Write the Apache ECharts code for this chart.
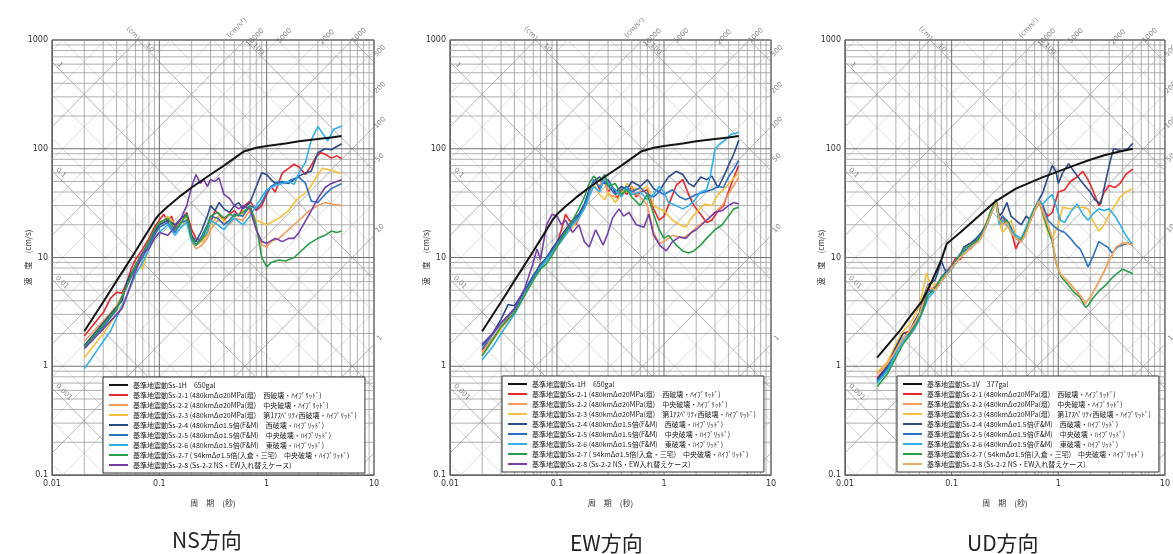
<!DOCTYPE html>
<html><head><meta charset="utf-8">
<script src="https://cdn.jsdelivr.net/npm/echarts/dist/echarts.min.js"></script>
<style>html,body{margin:0;padding:0;background:#fff}#c{width:1173px;height:554px}</style>
</head><body><div id="c"></div>
<script>
// ---------- axis ranges / grid values ----------
const PERIOD_MIN = 0.01, PERIOD_MAX = 10, VEL_MIN = 0.1, VEL_MAX = 1000;
const X_TICKS = [0.01, 0.1, 1, 10];
const Y_TICKS = [0.1, 1, 10, 100, 1000];
const MANTISSA = [2, 3, 4, 5, 6, 7, 8, 9];
const DISP_LINES = [0.0002,0.0005,0.001,0.002,0.005,0.01,0.02,0.05,0.1,0.2,0.5,1,2,5,10,20,50,100,200,500,1000];
const ACC_LINES = [0.1,0.2,0.5,1,2,5,10,20,50,100,200,500,1000,2000,5000,10000,20000,50000,100000,200000,500000];
// tripartite scale labels: [period, velocity, text, direction]
const SCALE_LABELS = [
  [0.0119, 590, '1', -45], [0.0121, 60, '0.1', -45], [0.0124, 5.9, '0.01', -45], [0.0129, 0.58, '0.001', -45],
  [0.057, 1150, '(cm)', -45], [0.0813, 845, '10', -45], [0.836, 826, '100', -45],
  [0.53, 1290, '(cm/s²)', 45], [0.78, 1050, '10000', 45], [1.46, 1089, '5000', 45], [3.65, 1064, '2000', 45], [7.24, 1100, '1000', 45],
  [11.35, 793, '500', 45], [11.35, 363, '200', 45], [11.35, 173, '100', 45], [11.35, 82.6, '50', 45], [11.35, 18.5, '10', 45], [11.35, 1.81, '1', 45]
];

// ---------- legend names ----------
const NAME_SS1H = '基準地震動Ss-1H　650gal';
const NAME_SS1V = '基準地震動Ss-1V　377gal';
const NAMES_SS2 = [
  '基準地震動Ss-2-1 (480kmΔσ20MPa(壇)　西破壊・ﾊｲﾌﾞﾘｯﾄﾞ)',
  '基準地震動Ss-2-2 (480kmΔσ20MPa(壇)　中央破壊・ﾊｲﾌﾞﾘｯﾄﾞ)',
  '基準地震動Ss-2-3 (480kmΔσ20MPa(壇)　第1ｱｽﾍﾟﾘﾃｨ西破壊・ﾊｲﾌﾞﾘｯﾄﾞ)',
  '基準地震動Ss-2-4 (480kmΔσ1.5倍(F&M)　西破壊・ﾊｲﾌﾞﾘｯﾄﾞ)',
  '基準地震動Ss-2-5 (480kmΔσ1.5倍(F&M)　中央破壊・ﾊｲﾌﾞﾘｯﾄﾞ)',
  '基準地震動Ss-2-6 (480kmΔσ1.5倍(F&M)　東破壊・ﾊｲﾌﾞﾘｯﾄﾞ)',
  '基準地震動Ss-2-7 ( 54kmΔσ1.5倍(入倉・三宅)　中央破壊・ﾊｲﾌﾞﾘｯﾄﾞ)',
  '基準地震動Ss-2-8 (Ss-2-2 NS・EW入れ替えケース)'
];
const PANEL_TITLES = ['NS方向', 'EW方向', 'UD方向'];
const X_NAME = '周　期　(秒)';
const Y_NAME = '速　度　(cm/s)';

// ---------- data: [period (s), velocity (cm/s)] ----------
const SS1H = [[0.02,2.1],[0.03,3.9],[0.04,6.1],[0.05,8.6],[0.06,11.4],[0.07,14.6],[0.08,18],[0.09,21.8],[0.1,25],[0.12,29.5],[0.15,35.5],[0.2,44],[0.3,58],[0.4,70],[0.5,82],[0.62,95],[0.8,102],[1.0,106],[1.5,112],[2.0,117],[3.0,123],[4.0,127],[5.0,131]];
const SS1V = [[0.02,1.2],[0.0324,2.1],[0.04,2.8],[0.053,4.0],[0.0655,6.1],[0.08,9.5],[0.09,13.4],[0.125,17.5],[0.167,22.6],[0.26,33],[0.4,43],[0.69,54],[1.0,62],[1.4,70],[1.9,78],[2.7,87],[3.7,94],[5.0,100]];

const NS_21 = [[0.02,1.9],[0.025,2.5],[0.03,3.1],[0.035,4.2],[0.04,4.8],[0.045,4.7],[0.05,6.0],[0.055,8.0],[0.06,9.5],[0.07,12],[0.08,15],[0.09,19],[0.1,22],[0.11,25],[0.12,21],[0.13,24],[0.14,19],[0.16,22],[0.18,26],[0.2,18],[0.22,15],[0.25,14],[0.28,17],[0.3,21],[0.33,27],[0.36,25],[0.4,22],[0.45,25],[0.5,27],[0.55,24],[0.6,29],[0.7,33],[0.8,27],[0.9,30],[1.0,38],[1.1,45],[1.2,40],[1.4,60],[1.6,66],[1.8,72],[2.0,68],[2.3,58],[2.6,70],[2.9,85],[3.2,92],[3.6,88],[4.0,82],[4.5,86],[5.0,81]];
const NS_22 = [[0.02,1.7],[0.03,2.6],[0.04,3.6],[0.05,5.5],[0.06,8],[0.07,10.5],[0.08,13],[0.09,17],[0.1,21],[0.12,23],[0.14,18],[0.16,22],[0.18,24],[0.2,14],[0.22,12],[0.25,13],[0.28,15],[0.3,18],[0.35,22],[0.4,21],[0.45,20],[0.5,23],[0.6,22],[0.7,27],[0.8,18],[0.9,13],[1.0,12.5],[1.1,14],[1.3,15],[1.5,17],[1.8,20],[2.0,22],[2.5,27],[3.0,30],[3.5,32],[4.0,31],[5.0,30]];
const NS_23 = [[0.02,1.2],[0.03,2.0],[0.04,3.0],[0.05,4.5],[0.06,7],[0.065,9],[0.07,7.8],[0.075,10],[0.08,12],[0.09,16],[0.1,20],[0.12,24],[0.14,20],[0.16,19],[0.18,23],[0.2,16],[0.22,13],[0.25,14],[0.28,16],[0.3,20],[0.35,24],[0.4,22],[0.45,21],[0.5,24],[0.6,25],[0.7,28],[0.8,22],[0.9,21],[1.0,20],[1.1,21],[1.3,23],[1.6,27],[1.9,34],[2.2,38],[2.5,43],[2.9,55],[3.3,66],[3.8,64],[4.3,62],[5.0,59]];
const NS_24 = [[0.02,1.55],[0.03,2.5],[0.04,3.5],[0.045,4.0],[0.05,6],[0.06,8.5],[0.07,11],[0.08,14],[0.09,17],[0.1,20],[0.12,22],[0.14,20],[0.16,23],[0.18,25],[0.2,16],[0.22,14],[0.25,18],[0.28,24],[0.3,30],[0.33,27],[0.36,32],[0.4,28],[0.45,26],[0.5,30],[0.55,32],[0.6,28],[0.7,32],[0.8,45],[0.9,60],[1.0,58],[1.1,52],[1.2,48],[1.4,50],[1.6,48],[1.8,52],[2.0,56],[2.3,60],[2.6,62],[3.0,92],[3.5,100],[4.0,98],[4.5,105],[5.0,111]];
const NS_25 = [[0.02,1.5],[0.03,2.3],[0.04,3.3],[0.05,5.5],[0.06,8],[0.07,10],[0.08,13],[0.09,16],[0.1,19],[0.12,21],[0.14,17],[0.16,21],[0.18,22],[0.2,15],[0.22,13],[0.25,16],[0.28,20],[0.3,24],[0.35,23],[0.4,20],[0.45,22],[0.5,25],[0.6,24],[0.7,30],[0.8,28],[0.9,32],[1.0,40],[1.1,45],[1.3,50],[1.5,48],[1.7,52],[2.0,55],[2.3,48],[2.6,33],[3.0,32],[3.5,38],[4.0,43],[5.0,48]];
const NS_26 = [[0.02,0.95],[0.025,1.3],[0.03,1.7],[0.035,2.1],[0.04,2.8],[0.05,4.5],[0.06,7],[0.07,9],[0.08,12],[0.09,15],[0.1,17],[0.12,20],[0.14,16],[0.16,19],[0.18,21],[0.2,14],[0.22,13],[0.25,15],[0.28,17],[0.3,22],[0.35,20],[0.4,18],[0.45,21],[0.5,23],[0.6,20],[0.7,24],[0.8,30],[0.9,36],[1.0,42],[1.2,46],[1.4,48],[1.6,50],[1.8,47],[2.0,60],[2.3,75],[2.6,120],[3.0,160],[3.3,140],[3.7,118],[4.2,150],[5.0,162]];
const NS_27 = [[0.02,1.5],[0.03,2.4],[0.04,3.4],[0.05,5.5],[0.06,8.5],[0.07,11],[0.08,14],[0.09,18],[0.1,21],[0.12,23],[0.14,18],[0.16,21],[0.18,25],[0.2,15],[0.22,13],[0.25,15],[0.28,19],[0.3,24],[0.35,26],[0.4,23],[0.45,25],[0.5,24],[0.6,26],[0.7,30],[0.8,20],[0.9,10],[1.0,8.2],[1.1,9.0],[1.3,9.5],[1.5,9.3],[1.8,10],[2.0,11],[2.5,13.5],[3.0,15],[3.5,16],[4.0,17.5],[4.5,17],[5.0,17.5]];
const NS_28 = [[0.02,1.45],[0.03,2.2],[0.04,3.0],[0.045,3.4],[0.05,4.5],[0.06,7.5],[0.07,11],[0.08,12],[0.09,15],[0.1,17],[0.12,16],[0.14,19],[0.16,23],[0.18,30],[0.2,45],[0.22,58],[0.24,48],[0.26,52],[0.28,45],[0.3,52],[0.33,50],[0.36,54],[0.4,38],[0.45,35],[0.5,30],[0.55,28],[0.6,30],[0.7,28],[0.8,18],[0.9,14],[1.0,13.5],[1.2,15],[1.4,14],[1.6,15],[1.8,15],[2.0,17],[2.5,25],[3.0,35],[3.5,44],[4.0,48],[5.0,52]];

const EW_21 = [[0.02,1.4],[0.025,1.8],[0.03,2.3],[0.035,2.8],[0.04,3.3],[0.05,4.6],[0.06,6.5],[0.07,8.8],[0.08,9.5],[0.09,12],[0.1,13.5],[0.11,18],[0.12,25],[0.13,22],[0.15,20],[0.17,26],[0.19,32],[0.21,45],[0.23,52],[0.25,42],[0.27,55],[0.3,40],[0.33,45],[0.37,35],[0.4,42],[0.45,38],[0.5,45],[0.55,36],[0.6,40],[0.7,42],[0.8,28],[0.9,22],[1.0,24],[1.1,30],[1.3,46],[1.5,52],[1.7,38],[1.9,30],[2.2,25],[2.5,21],[2.8,22],[3.2,27],[3.6,30],[4.0,40],[4.5,55],[5.0,70]];
const EW_22 = [[0.02,1.35],[0.03,2.3],[0.04,3.2],[0.05,4.8],[0.06,6.8],[0.07,8.5],[0.08,10],[0.09,11.5],[0.1,13],[0.12,17],[0.14,20],[0.16,24],[0.18,30],[0.2,40],[0.22,50],[0.25,46],[0.28,52],[0.3,38],[0.35,36],[0.4,44],[0.45,40],[0.5,42],[0.6,36],[0.7,30],[0.8,17],[0.9,13.5],[1.0,14],[1.2,16],[1.5,15],[1.8,17],[2.0,19],[2.5,22],[3.0,26],[3.5,30],[4.0,38],[4.5,46],[5.0,55]];
const EW_23 = [[0.02,1.25],[0.03,2.2],[0.04,3.1],[0.05,4.6],[0.06,6.5],[0.07,8.2],[0.08,9.5],[0.09,11],[0.1,13],[0.12,16],[0.14,19],[0.16,23],[0.18,28],[0.2,38],[0.22,48],[0.25,38],[0.28,34],[0.3,40],[0.35,32],[0.4,38],[0.45,48],[0.5,44],[0.6,42],[0.7,45],[0.8,30],[0.9,28],[1.0,27],[1.2,22],[1.4,20],[1.6,19],[1.8,23],[2.0,26],[2.4,31],[2.8,30],[3.2,38],[3.6,42],[4.2,50],[5.0,60]];
const EW_24 = [[0.02,1.55],[0.025,2.0],[0.03,2.7],[0.035,3.7],[0.04,3.6],[0.05,5.0],[0.06,6.8],[0.07,8.6],[0.08,10],[0.09,12],[0.1,14],[0.12,18],[0.14,22],[0.16,25],[0.18,31],[0.2,42],[0.22,50],[0.25,55],[0.28,48],[0.3,52],[0.35,40],[0.4,45],[0.45,42],[0.5,50],[0.6,45],[0.7,52],[0.8,43],[0.9,40],[1.0,48],[1.1,55],[1.3,62],[1.5,58],[1.7,48],[1.9,45],[2.2,55],[2.5,52],[2.8,56],[3.2,44],[3.6,55],[4.0,70],[4.5,90],[5.0,120]];
const EW_25 = [[0.02,1.45],[0.03,2.5],[0.04,3.3],[0.05,4.9],[0.06,6.6],[0.07,8.4],[0.08,9.8],[0.09,11.5],[0.1,13.5],[0.12,17],[0.14,21],[0.16,24],[0.18,30],[0.2,40],[0.22,52],[0.25,44],[0.28,50],[0.3,46],[0.35,38],[0.4,42],[0.45,45],[0.5,40],[0.6,44],[0.7,38],[0.8,36],[0.9,40],[1.0,38],[1.2,42],[1.4,36],[1.6,34],[1.8,36],[2.0,38],[2.4,40],[2.8,42],[3.2,45],[3.6,44],[4.0,55],[4.5,65],[5.0,78]];
const EW_26 = [[0.02,1.15],[0.025,1.5],[0.03,2.0],[0.04,3.0],[0.05,4.5],[0.06,6.2],[0.07,8.0],[0.08,9.5],[0.09,11],[0.1,12.5],[0.12,16],[0.14,20],[0.16,23],[0.18,28],[0.2,36],[0.22,45],[0.25,40],[0.28,56],[0.3,48],[0.35,42],[0.4,36],[0.45,44],[0.5,38],[0.6,40],[0.7,34],[0.8,38],[0.9,45],[1.0,40],[1.1,32],[1.3,30],[1.5,28],[1.7,30],[1.9,33],[2.2,40],[2.5,42],[2.7,55],[3.0,100],[3.3,110],[3.7,120],[4.2,135],[5.0,142]];
const EW_27 = [[0.02,1.25],[0.03,2.3],[0.04,3.1],[0.05,4.5],[0.06,6.2],[0.07,7.8],[0.08,8.8],[0.09,10.5],[0.1,12.5],[0.12,17],[0.14,22],[0.16,28],[0.18,36],[0.2,48],[0.22,56],[0.25,50],[0.28,58],[0.3,45],[0.35,48],[0.4,38],[0.45,42],[0.5,36],[0.6,30],[0.7,38],[0.8,25],[0.9,18],[1.0,15],[1.1,16],[1.3,13],[1.5,11.5],[1.7,11],[1.9,11.5],[2.2,13],[2.5,15],[3.0,18],[3.5,20],[4.0,24],[4.5,28],[5.0,29]];
const EW_28 = [[0.02,1.6],[0.025,2.0],[0.03,2.5],[0.04,3.4],[0.05,5.2],[0.06,9],[0.065,12],[0.07,9.5],[0.08,20],[0.09,25],[0.1,24],[0.11,20],[0.12,22],[0.14,17],[0.16,20],[0.18,14],[0.2,12.5],[0.23,18],[0.27,13],[0.3,17],[0.33,23],[0.38,28],[0.42,24],[0.47,26],[0.55,20],[0.65,19],[0.72,25],[0.8,16],[0.93,12.7],[1.05,11.5],[1.2,14],[1.4,15.5],[1.6,15],[1.8,17],[2.0,18],[2.5,22],[3.0,26],[3.5,27],[4.0,30],[4.5,32],[5.0,31]];

const UD_21 = [[0.02,0.78],[0.025,1.0],[0.03,1.5],[0.035,2.0],[0.04,2.1],[0.045,2.6],[0.05,3.0],[0.055,4.0],[0.06,5.2],[0.065,4.8],[0.07,5.5],[0.08,6.3],[0.09,7.5],[0.1,8.5],[0.11,10],[0.12,9.5],[0.13,11.5],[0.15,12],[0.17,14],[0.19,16],[0.21,20],[0.23,25],[0.26,33],[0.28,22],[0.3,24],[0.33,20],[0.36,18],[0.4,12],[0.43,14],[0.47,15],[0.52,20],[0.58,25],[0.66,32],[0.72,28],[0.8,24],[0.88,26],[1.0,40],[1.15,42],[1.3,50],[1.5,55],[1.7,62],[1.9,52],[2.1,42],[2.4,30],[2.7,40],[3.0,46],[3.4,44],[3.8,48],[4.3,58],[5.0,65]];
const UD_22 = [[0.02,0.85],[0.025,1.05],[0.03,1.4],[0.035,1.8],[0.04,2.1],[0.045,2.5],[0.05,3.0],[0.055,4.2],[0.06,5.5],[0.07,5.0],[0.08,6.0],[0.09,7.0],[0.1,8.0],[0.11,9.0],[0.12,10],[0.14,11.5],[0.16,13],[0.18,14],[0.2,17],[0.23,24],[0.26,32],[0.28,22],[0.3,20],[0.33,21],[0.36,17],[0.4,15],[0.45,14],[0.5,17],[0.55,22],[0.6,27],[0.66,33],[0.72,26],[0.8,20],[0.88,15],[0.95,9],[1.05,7.0],[1.2,6.2],[1.4,5.2],[1.6,4.5],[1.8,3.8],[2.0,4.3],[2.3,5.5],[2.7,7.5],[3.1,10],[3.5,12.5],[4.0,13.5],[4.5,13.5],[5.0,13]];
const UD_23 = [[0.02,0.88],[0.025,1.1],[0.03,1.6],[0.035,2.1],[0.04,2.4],[0.045,2.9],[0.05,3.6],[0.055,5.5],[0.058,7.2],[0.062,6.0],[0.07,5.5],[0.08,6.2],[0.09,7.2],[0.1,8.2],[0.11,9.5],[0.12,10.5],[0.14,12],[0.16,14],[0.18,15],[0.2,18],[0.23,26],[0.26,34],[0.28,22],[0.3,17],[0.33,19],[0.36,22],[0.4,16],[0.45,15],[0.5,17],[0.55,22],[0.6,28],[0.66,33],[0.72,24],[0.8,17],[0.88,15],[1.0,20],[1.1,29],[1.3,28],[1.5,29],[1.7,29],[1.9,28],[2.1,22],[2.4,17.5],[2.7,20],[3.0,25],[3.4,30],[3.8,36],[4.3,40],[5.0,43]];
const UD_24 = [[0.02,0.75],[0.025,1.0],[0.03,1.5],[0.035,2.0],[0.04,2.0],[0.045,2.6],[0.05,3.1],[0.055,4.4],[0.06,5.6],[0.07,6.2],[0.075,7.5],[0.08,9.4],[0.085,8.0],[0.09,7.2],[0.1,8.0],[0.11,9.2],[0.12,10.5],[0.13,12.5],[0.15,13.5],[0.17,15],[0.19,17],[0.21,20],[0.23,25],[0.26,34],[0.28,24],[0.3,26],[0.33,32],[0.36,24],[0.4,22],[0.45,20],[0.5,24],[0.55,22],[0.6,28],[0.66,34],[0.72,40],[0.8,55],[0.88,70],[0.95,62],[1.0,48],[1.1,60],[1.25,73],[1.4,62],[1.6,52],[1.8,45],[2.0,40],[2.2,34],[2.5,31],[2.8,52],[3.1,80],[3.3,100],[3.6,98],[4.0,96],[4.5,100],[5.0,112]];
const UD_25 = [[0.02,0.72],[0.025,0.95],[0.03,1.35],[0.035,1.8],[0.04,2.0],[0.045,2.4],[0.05,2.9],[0.055,3.6],[0.06,4.8],[0.07,5.2],[0.08,6.6],[0.09,7.5],[0.1,8.2],[0.11,9.5],[0.12,10.8],[0.13,11.5],[0.15,12.5],[0.17,14.5],[0.19,16.5],[0.21,19],[0.23,24],[0.26,33],[0.28,21],[0.3,24],[0.33,22],[0.36,19],[0.4,15],[0.45,14],[0.5,18],[0.55,23],[0.6,28],[0.66,34],[0.72,30],[0.8,22],[0.88,20],[1.0,18],[1.15,17],[1.3,15],[1.46,13],[1.6,12],[1.75,10],[1.9,8.2],[2.1,10],[2.4,14],[2.7,13],[2.9,12.5],[3.2,11],[3.6,12.5],[4.0,13],[4.5,13.5],[5.0,13]];
const UD_26 = [[0.02,0.7],[0.025,0.9],[0.03,1.3],[0.035,1.7],[0.04,1.9],[0.045,2.2],[0.05,2.7],[0.055,3.4],[0.06,4.2],[0.07,5.0],[0.08,6.0],[0.09,7.0],[0.1,7.8],[0.11,9.0],[0.12,10],[0.13,11],[0.15,12.5],[0.17,14],[0.19,16],[0.21,19],[0.23,24],[0.26,32],[0.28,20],[0.3,22],[0.33,20],[0.36,18],[0.4,16],[0.45,15],[0.5,19],[0.55,24],[0.6,29],[0.66,33],[0.72,31],[0.8,35],[0.88,38],[0.95,30],[1.05,22],[1.15,21],[1.3,26],[1.5,31],[1.7,25],[1.9,22],[2.1,25],[2.4,28],[2.7,27],[3.0,28],[3.4,24],[3.8,20],[4.3,16],[5.0,13]];
const UD_27 = [[0.02,0.65],[0.025,0.85],[0.03,1.2],[0.035,1.6],[0.04,1.9],[0.045,2.3],[0.05,2.8],[0.055,3.5],[0.06,4.5],[0.07,5.2],[0.08,6.5],[0.09,7.2],[0.1,8.0],[0.11,9.2],[0.12,10.5],[0.13,12],[0.15,13],[0.17,14],[0.19,16],[0.21,20],[0.23,26],[0.26,34],[0.28,23],[0.3,20],[0.33,22],[0.36,17],[0.4,15],[0.45,14.5],[0.5,18],[0.55,23],[0.6,28],[0.66,33],[0.72,25],[0.8,18],[0.88,14],[0.95,9],[1.06,6.7],[1.2,5.8],[1.4,4.8],[1.6,4.3],[1.8,3.5],[1.9,3.6],[2.1,4.2],[2.4,4.9],[2.8,5.6],[3.2,6.5],[3.6,7.2],[4.0,7.8],[4.4,7.5],[5.0,7.1]];
const UD_28 = UD_22; // drawn on top of Ss-2-2 in the UD panel

// ---------- layout ----------
const PANELS = [
  {grid:{left:52, top:40, width:322, height:435}, legend:{left:103, top:377}, title:{left:167, top:525},
   names:[NAME_SS1H].concat(NAMES_SS2), data:[SS1H,NS_21,NS_22,NS_23,NS_24,NS_25,NS_26,NS_27,NS_28], last:'#7440a8'},
  {grid:{left:450, top:40, width:321, height:435}, legend:{left:502, top:376}, title:{left:565, top:528},
   names:[NAME_SS1H].concat(NAMES_SS2), data:[SS1H,EW_21,EW_22,EW_23,EW_24,EW_25,EW_26,EW_27,EW_28], last:'#7440a8'},
  {grid:{left:845, top:40, width:322, height:435}, legend:{left:897, top:376}, title:{left:962, top:528},
   names:[NAME_SS1V].concat(NAMES_SS2.slice(0,7), [NAMES_SS2[7] + '\u200b']), data:[SS1V,UD_21,UD_22,UD_23,UD_24,UD_25,UD_26,UD_27,UD_28], last:'#eda865'}
];
const COLORS = ['#141414','#e8262b','#f39a5e','#f6c03c','#2c4a8a','#2a73c2','#2fb0ea','#2a9d48'];
const FONT = '"Noto Sans CJK JP","Noto Sans",sans-serif';

const L = Math.log10;
function diag(kind, c){
  const lt0=L(PERIOD_MIN), lt1=L(PERIOD_MAX), lv0=L(VEL_MIN), lv1=L(VEL_MAX);
  let a,b,f;
  if(kind==='D'){ const k=L(2*Math.PI*c); a=Math.max(lt0,k-lv1); b=Math.min(lt1,k-lv0); f=t=>k-t; }
  else { const k=L(c/(2*Math.PI)); a=Math.max(lt0,lv0-k); b=Math.min(lt1,lv1-k); f=t=>k+t; }
  if(b<=a+1e-9) return null;
  return [10**a, 10**f(a), 10**b, 10**f(b)];
}
function isDecade(c){ return Math.abs(L(c)-Math.round(L(c)))<1e-9; }
function gridLines(){
  const d=[];
  for(const c of DISP_LINES){ const s=diag('D',c); if(s) d.push(s.concat([isDecade(c)?2:3])); }
  for(const c of ACC_LINES){ const s=diag('A',c); if(s) d.push(s.concat([isDecade(c)?2:3])); }
  for(const dec of [0.01,0.1,1]) for(const m of MANTISSA) d.push([m*dec,VEL_MIN,m*dec,VEL_MAX,0]);
  for(const dec of [0.1,1,10,100]) for(const m of MANTISSA) d.push([PERIOD_MIN,m*dec,PERIOD_MAX,m*dec,0]);
  for(const t of X_TICKS) d.push([t,VEL_MIN,t,VEL_MAX,1]);
  for(const v of Y_TICKS) d.push([PERIOD_MIN,v,PERIOD_MAX,v,1]);
  return d;
}
const GSTYLE = [{c:'#9c9c9c',w:0.8},{c:'#707070',w:1},{c:'#999999',w:0.75},{c:'#c2c2c2',w:0.6}];
const fmt = v => String(Number(v.toPrecision(3)));

const option = {backgroundColor:'#fff', animation:false, grid:[], xAxis:[], yAxis:[], series:[], legend:[], title:[]};
PANELS.forEach((p,i)=>{
  option.grid.push(Object.assign({show:true, borderColor:'#555', borderWidth:1, backgroundColor:'#fff', containLabel:false}, p.grid));
  option.xAxis.push({type:'log', logBase:10, gridIndex:i, min:PERIOD_MIN, max:PERIOD_MAX,
    name:X_NAME, nameLocation:'middle', nameGap:24, nameMoveOverlap:false, nameTextStyle:{fontSize:8, color:'#333', fontFamily:FONT},
    axisLine:{show:true, lineStyle:{color:'#555'}}, axisTick:{show:false}, splitLine:{show:false}, minorTick:{show:false},
    axisLabel:{fontSize:8, color:'#333', margin:5, formatter:fmt, fontFamily:'"DejaVu Sans",sans-serif'}});
  option.yAxis.push({type:'log', logBase:10, gridIndex:i, min:VEL_MIN, max:VEL_MAX,
    name:Y_NAME, nameLocation:'middle', nameGap:20, nameMoveOverlap:false, nameTextStyle:{fontSize:8, color:'#333', fontFamily:FONT},
    axisLine:{show:true, lineStyle:{color:'#555'}}, axisTick:{show:false}, splitLine:{show:false},
    axisLabel:{fontSize:8, color:'#333', margin:4, formatter:fmt, fontFamily:'"DejaVu Sans",sans-serif'}});
  option.series.push({type:'custom', xAxisIndex:i, yAxisIndex:i, silent:true, z:1, data:gridLines(),
    encode:{x:[0,2], y:[1,3]},
    renderItem:(params, api)=>{
      const p1=api.coord([api.value(0),api.value(1)]), p2=api.coord([api.value(2),api.value(3)]);
      const st=GSTYLE[api.value(4)];
      return {type:'line', shape:{x1:p1[0],y1:p1[1],x2:p2[0],y2:p2[1]}, style:{stroke:st.c, lineWidth:st.w}};
    }});
  option.series.push({type:'scatter', xAxisIndex:i, yAxisIndex:i, silent:true, clip:false, z:2, symbolSize:1,
    itemStyle:{color:'rgba(0,0,0,0)'},
    label:{show:true, position:'inside', fontSize:7, color:'#666', fontFamily:'"DejaVu Sans",sans-serif'},
    data:SCALE_LABELS.map(s=>({value:[s[0],s[1]], label:{formatter:s[2], rotate:s[3]}}))});
  p.data.forEach((d,k)=>{
    option.series.push({type:'line', name:p.names[k], xAxisIndex:i, yAxisIndex:i, data:d, symbol:'none', showSymbol:false, z:5+(k===0?10:0),
      clip:true, lineStyle:{width:k===0?2:1.6, color:k<8?COLORS[k]:p.last}, itemStyle:{color:k<8?COLORS[k]:p.last}});
  });
  option.legend.push({orient:'vertical', left:p.legend.left, top:p.legend.top, data:p.names, selectedMode:false,
    icon:'rect', itemWidth:19, itemHeight:2, itemGap:2, padding:[4,8,4,6], backgroundColor:'#fff', borderColor:'#333', borderWidth:1,
    textStyle:{fontSize:7, lineHeight:8, color:'#222', fontFamily:FONT}});
  option.title.push({text:PANEL_TITLES[i], left:p.title.left, top:p.title.top,
    textStyle:{fontSize:21, fontWeight:'normal', color:'#222', fontFamily:FONT}});
});
const chart = echarts.init(document.getElementById('c'), null, {renderer:'canvas'});
chart.setOption(option);
</script></body></html>
